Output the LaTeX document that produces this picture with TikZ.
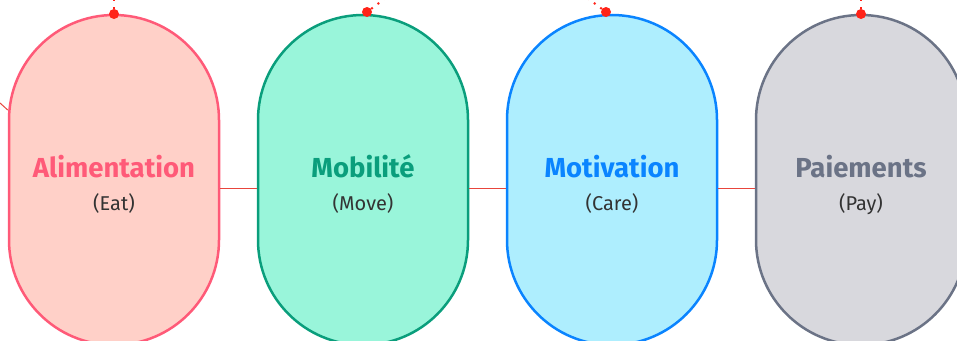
\documentclass[tikz,border=0pt]{standalone}
\usepackage{fontspec}
\setmainfont{Fira Sans}
\definecolor{eatfill}{HTML}{FFD0C8}
\definecolor{eatdraw}{HTML}{FF5A78}
\definecolor{movefill}{HTML}{99F5DA}
\definecolor{movedraw}{HTML}{0A9E7C}
\definecolor{carefill}{HTML}{AEEEFE}
\definecolor{caredraw}{HTML}{0A84FF}
\definecolor{payfill}{HTML}{D8D8DD}
\definecolor{paydraw}{HTML}{6B7386}
\definecolor{dotred}{HTML}{FF2318}
\definecolor{linkred}{HTML}{E8453C}
\definecolor{subgray}{HTML}{333333}
\begin{document}
\begin{tikzpicture}[x=1pt, y=-1pt, capsule/.style={rectangle,draw,line width=2.5pt,minimum width=210pt,minimum height=330pt,rounded corners=105pt,inner sep=0pt}, red dot/.style={circle,fill=dotred,minimum size=10pt,inner sep=0pt}]%
\useasboundingbox (0,0) rectangle (957,340);
\clip (0,0) rectangle (957,340);
\begin{scope}
\node[capsule, fill=eatfill, draw=eatdraw] (eat) at (114,180) {};
\node[capsule, fill=movefill, draw=movedraw] (move) at (363,180) {};
\node[capsule, fill=carefill, draw=caredraw] (care) at (612,180) {};
\node[capsule, fill=payfill, draw=paydraw] (pay) at (861,180) {};
\end{scope}
\begin{scope}[every node/.style={anchor=base,font=\fontsize{27.5}{32}\selectfont\bfseries}]
\node[text=eatdraw] (eat-title) at (114,177) {Alimentation};
\node[text=movedraw] (move-title) at (363,177) {Mobilité};
\node[text=caredraw] (care-title) at (612,177) {Motivation};
\node[text=paydraw] (pay-title) at (861,177) {Paiements};
\end{scope}
\begin{scope}[every node/.style={anchor=base,text=subgray,font=\fontsize{20}{24}\selectfont}]
\node (eat-sub) at (114,210) {(Eat)};
\node (move-sub) at (363,210) {(Move)};
\node (care-sub) at (612,210) {(Care)};
\node (pay-sub) at (861,210) {(Pay)};
\end{scope}
\coordinate (in-left) at (-20,85);
\coordinate (out-eat) at (114,-10);
\coordinate (out-move) at (395,-9);
\coordinate (out-care) at (578,-9);
\coordinate (out-pay) at (861,-10);
\begin{scope}[every edge/.style={draw=linkred,line width=1pt}]
\draw (in-left) edge ([yshift=70pt]eat.west);
\draw ([yshift=-8pt]eat.east) edge ([yshift=-8pt]move.west);
\draw ([yshift=-8pt]move.east) edge ([yshift=-8pt]care.west);
\draw ([yshift=-8pt]care.east) edge ([yshift=-8pt]pay.west);
\end{scope}
\begin{scope}
\node[red dot] (dot-eat) at (114,14) {};
\node[red dot] (dot-move) at (367,12) {};
\node[red dot] (dot-care) at (606,12) {};
\node[red dot] (dot-pay) at (861,14) {};
\end{scope}
\begin{scope}[every edge/.style={draw=dotred,line width=2pt,dash pattern=on 2pt off 6pt}]
\draw (dot-eat) edge (out-eat);
\draw (dot-move) edge (out-move);
\draw (dot-care) edge (out-care);
\draw (dot-pay) edge (out-pay);
\end{scope}
\end{tikzpicture}
\end{document}
